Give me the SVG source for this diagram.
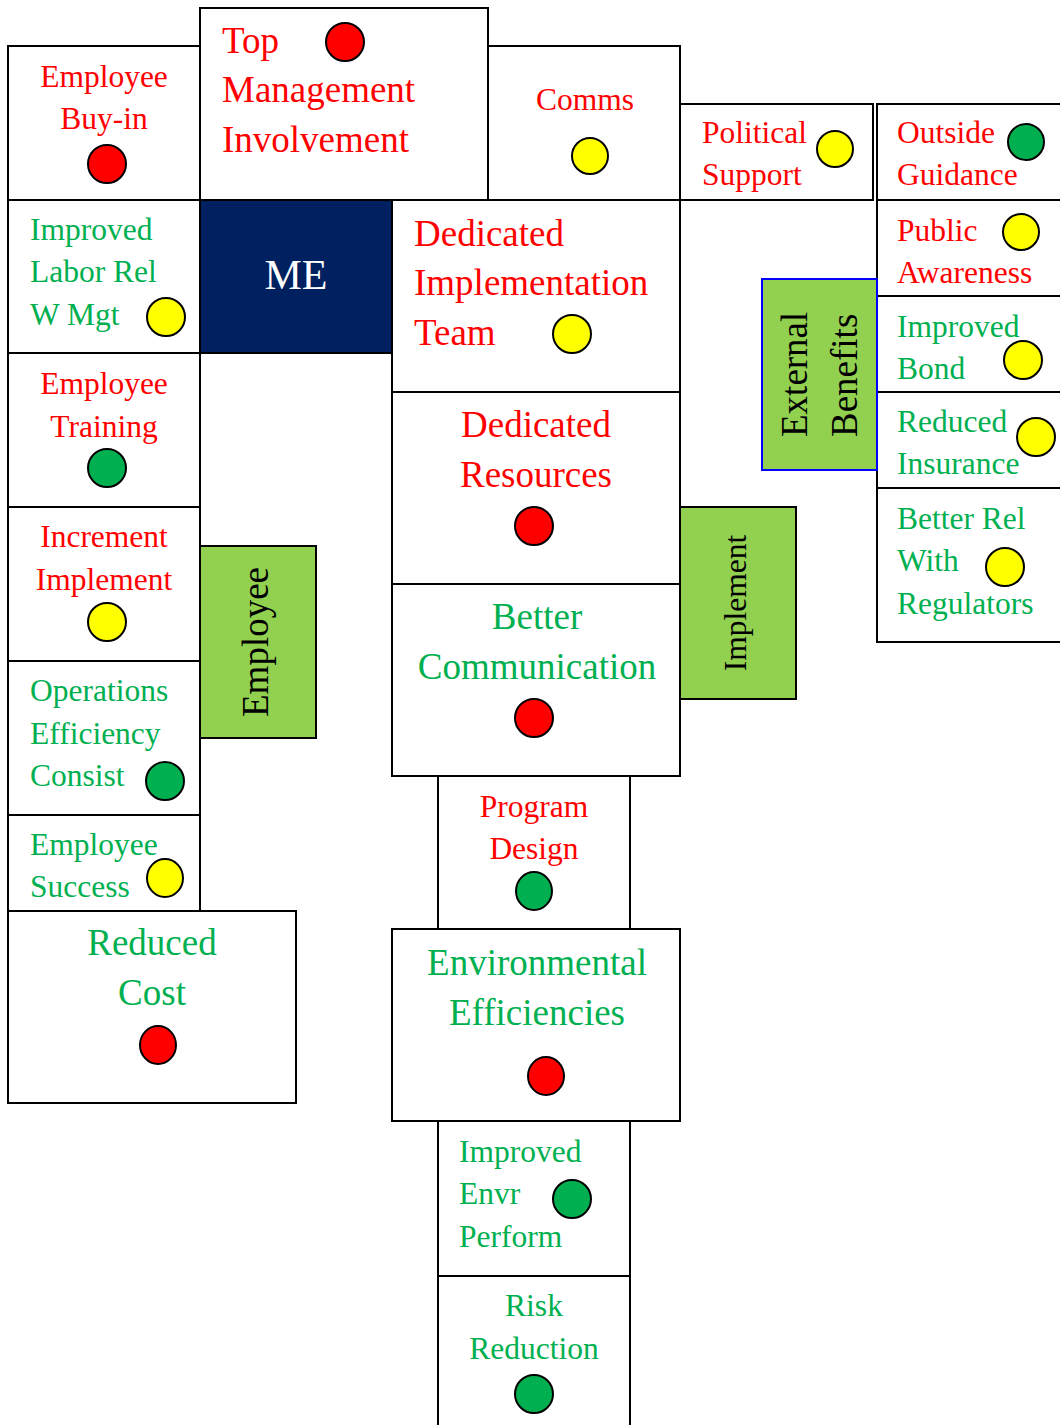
<svg xmlns="http://www.w3.org/2000/svg" width="1060" height="1425" viewBox="0 0 1060 1425">
<style>
.b{fill:#fff;stroke:#000;stroke-width:2}
.g{fill:#92D050;stroke:#000;stroke-width:2}
text{font-family:"Liberation Serif","Times New Roman",serif}
.s{font-size:31.5px}
.l{font-size:37px}
.r{fill:#FF0000}
.gr{fill:#00B050}
.k{fill:#000}
.m{text-anchor:middle}
.cr{fill:#FF0000;stroke:#000;stroke-width:2}
.cy{fill:#FFFF00;stroke:#000;stroke-width:2}
.cg{fill:#00B050;stroke:#000;stroke-width:2}
</style>
<rect width="1060" height="1425" fill="#fff"/>
<g id="connectors"></g>

<g id="employee-buyin"><rect class="b" x="8" y="46" width="192" height="154"/>
<text class="s r m" x="104" y="87">Employee</text><text class="s r m" x="104" y="129">Buy-in</text>
<circle class="cr" cx="107" cy="164" r="19"/></g>

<g id="top-management"><rect class="b" x="200" y="8" width="288" height="192"/>
<text class="l r" x="222" y="53">Top</text><text class="l r" x="222" y="102">Management</text><text class="l r" x="222" y="152">Involvement</text>
<circle class="cr" cx="345" cy="42" r="19"/></g>

<g id="comms"><rect class="b" x="488" y="46" width="192" height="154"/>
<text class="s r m" x="585" y="110">Comms</text>
<circle class="cy" cx="590" cy="156" r="18"/></g>

<g id="political-support"><rect class="b" x="680" y="104" width="193" height="96"/>
<text class="s r" x="702" y="143">Political</text><text class="s r" x="702" y="185">Support</text>
<circle class="cy" cx="835" cy="149" r="18"/></g>

<g id="outside-guidance"><rect class="b" x="877" y="104" width="190" height="96"/>
<text class="s r" x="897" y="143">Outside</text><text class="s r" x="897" y="185">Guidance</text>
<circle class="cg" cx="1026" cy="142" r="18"/></g>

<g id="public-awareness"><rect class="b" x="877" y="200" width="190" height="96"/>
<text class="s r" x="897" y="241">Public</text><text class="s r" x="897" y="283">Awareness</text>
<circle class="cy" cx="1021" cy="232" r="18"/></g>

<g id="improved-bond"><rect class="b" x="877" y="296" width="190" height="96"/>
<text class="s gr" x="897" y="337">Improved</text><text class="s gr" x="897" y="379">Bond</text>
<circle class="cy" cx="1023" cy="360" r="19"/></g>

<g id="reduced-insurance"><rect class="b" x="877" y="392" width="190" height="96"/>
<text class="s gr" x="897" y="432">Reduced</text><text class="s gr" x="897" y="474">Insurance</text>
<circle class="cy" cx="1036" cy="437" r="19"/></g>

<g id="better-rel-regulators"><rect class="b" x="877" y="488" width="190" height="154"/>
<text class="s gr" x="897" y="529">Better Rel</text><text class="s gr" x="897" y="571">With</text><text class="s gr" x="897" y="614">Regulators</text>
<circle class="cy" cx="1005" cy="567" r="19"/></g>

<g id="external-benefits"><rect x="762" y="279" width="115" height="191" fill="#92D050" stroke="#0000FF" stroke-width="2"/>
<g transform="translate(807,437) rotate(-90)"><text class="l k" x="0" y="0">External</text><text class="l k" x="0" y="50">Benefits</text></g></g>

<g id="improved-labor-rel"><rect class="b" x="8" y="200" width="192" height="153"/>
<text class="s gr" x="30" y="240">Improved</text><text class="s gr" x="30" y="282">Labor Rel</text><text class="s gr" x="30" y="325">W Mgt</text>
<circle class="cy" cx="166" cy="317" r="19"/></g>

<g id="me"><rect x="200" y="200" width="192" height="153" fill="#002060" stroke="#000" stroke-width="2"/>
<text x="296" y="289" font-size="42" fill="#fff" text-anchor="middle">ME</text></g>

<g id="dedicated-implementation-team"><rect class="b" x="392" y="200" width="288" height="192"/>
<text class="l r" x="414" y="246">Dedicated</text><text class="l r" x="414" y="295">Implementation</text><text class="l r" x="414" y="345">Team</text>
<circle class="cy" cx="572" cy="334" r="19"/></g>

<g id="employee-training"><rect class="b" x="8" y="353" width="192" height="154"/>
<text class="s r m" x="104" y="394">Employee</text><text class="s r m" x="104" y="437">Training</text>
<circle class="cg" cx="107" cy="468" r="19"/></g>

<g id="dedicated-resources"><rect class="b" x="392" y="392" width="288" height="192"/>
<text class="l r m" x="536" y="437">Dedicated</text><text class="l r m" x="536" y="487">Resources</text>
<circle class="cr" cx="534" cy="526" r="19"/></g>

<g id="increment-implement"><rect class="b" x="8" y="507" width="192" height="154"/>
<text class="s r m" x="104" y="547">Increment</text><text class="s r m" x="104" y="590">Implement</text>
<circle class="cy" cx="107" cy="622" r="19"/></g>

<g id="employee"><rect class="g" x="200" y="546" width="116" height="192"/>
<g transform="translate(268,642) rotate(-90)"><text class="l k m" x="0" y="0">Employee</text></g></g>

<g id="better-communication"><rect class="b" x="392" y="584" width="288" height="192"/>
<text class="l gr m" x="537" y="629">Better</text><text class="l gr m" x="537" y="679">Communication</text>
<circle class="cr" cx="534" cy="718" r="19"/></g>

<g id="implement"><rect class="g" x="680" y="507" width="116" height="192"/>
<g transform="translate(746,603) rotate(-90)"><text class="s k m" x="0" y="0">Implement</text></g></g>

<g id="operations-efficiency"><rect class="b" x="8" y="661" width="192" height="154"/>
<text class="s gr" x="30" y="701">Operations</text><text class="s gr" x="30" y="744">Efficiency</text><text class="s gr" x="30" y="786">Consist</text>
<circle class="cg" cx="165" cy="781" r="19"/></g>

<g id="employee-success"><rect class="b" x="8" y="815" width="192" height="96"/>
<text class="s gr" x="30" y="855">Employee</text><text class="s gr" x="30" y="897">Success</text>
<ellipse class="cy" cx="165" cy="878" rx="18" ry="19"/></g>

<g id="program-design"><rect class="b" x="438" y="776" width="192" height="153"/>
<text class="s r m" x="534" y="817">Program</text><text class="s r m" x="534" y="859">Design</text>
<ellipse class="cg" cx="534" cy="891" rx="18" ry="19"/></g>

<g id="reduced-cost"><rect class="b" x="8" y="911" width="288" height="192"/>
<text class="l gr m" x="152" y="955">Reduced</text><text class="l gr m" x="152" y="1005">Cost</text>
<ellipse class="cr" cx="158" cy="1045" rx="18" ry="19"/></g>

<g id="environmental-efficiencies"><rect class="b" x="392" y="929" width="288" height="192"/>
<text class="l gr m" x="537" y="975">Environmental</text><text class="l gr m" x="537" y="1025">Efficiencies</text>
<ellipse class="cr" cx="546" cy="1076" rx="18" ry="19"/></g>

<g id="improved-envr-perform"><rect class="b" x="438" y="1121" width="192" height="155"/>
<text class="s gr" x="459" y="1162">Improved</text><text class="s gr" x="459" y="1204">Envr</text><text class="s gr" x="459" y="1247">Perform</text>
<circle class="cg" cx="572" cy="1199" r="19"/></g>

<g id="risk-reduction"><rect class="b" x="438" y="1276" width="192" height="160"/>
<text class="s gr m" x="534" y="1316">Risk</text><text class="s gr m" x="534" y="1359">Reduction</text>
<circle class="cg" cx="534" cy="1394" r="19"/></g>
</svg>
